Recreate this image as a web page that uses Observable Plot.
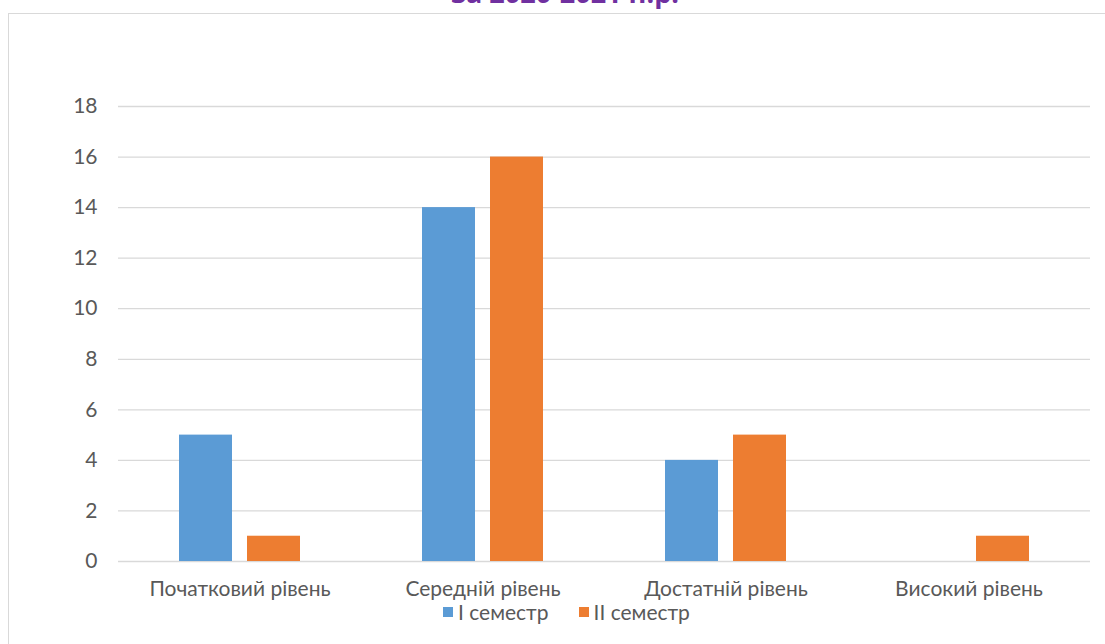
<!DOCTYPE html>
<html>
<head>
<meta charset="utf-8">
<script src="https://cdn.jsdelivr.net/npm/d3@7"></script>
<script src="https://cdn.jsdelivr.net/npm/@observablehq/plot@0.6"></script>
<style>
  html, body { margin: 0; padding: 0; background: #fff; overflow: hidden; }
  #wrap { position: relative; width: 1105px; height: 644px; overflow: hidden; font-family: Lato, "Open Sans", sans-serif; }
  #frame { position: absolute; left: 8px; top: 13px; width: 1120px; height: 700px; border: 1.5px solid #d9d9d9; box-sizing: border-box; }
  #title { position: absolute; left: 0; width: 1130px; top: -20px; text-align: center; font-weight: bold; font-size: 27px; color: #7030A0; line-height: 26px; font-family: "Open Sans", sans-serif; }
  #chart { position: absolute; left: 0; top: 0; }
  #legend { position: absolute; left: 443px; top: 599px; display: flex; align-items: center; font-size: 21px; color: #595959; }
  .sw { width: 10px; height: 10px; display: inline-block; margin-right: 5px; }
  .item { display: flex; align-items: center; margin-right: 30px; }
</style>
</head>
<body>
<div id="wrap">
  <div id="frame"></div>
  <div id="title">за 2020-2021 н.р.</div>
  <div id="chart"></div>
  <div id="legend"></div>
</div>
<script>
const categories = ["Початковий рівень", "Середній рівень", "Достатній рівень", "Високий рівень"];
const series = ["I семестр", "II семестр"];
const sem1 = [5, 14, 4, 0];
const sem2 = [1, 16, 5, 1];
const yTicks = [0, 2, 4, 6, 8, 10, 12, 14, 16, 18];
const colors = ["#5B9BD5", "#ED7D31"];

const data = [];
categories.forEach((c, i) => {
  data.push({cat: c, sem: series[0], v: sem1[i]});
  data.push({cat: c, sem: series[1], v: sem2[i]});
});

const chart = Plot.plot({
  width: 1105,
  height: 600,
  marginLeft: 118,
  marginRight: 15,
  marginTop: 106,
  marginBottom: 39,
  style: {fontFamily: "Lato, 'Open Sans', sans-serif", fontSize: "21px", color: "#595959", background: "transparent"},
  fx: {domain: categories, padding: 0, label: null},
  x: {domain: series, paddingInner: 0.2174, paddingOuter: 0.8696, axis: null},
  y: {domain: [0, 18], label: null},
  color: {domain: series, range: colors},
  marks: [
    Plot.gridY(yTicks, {stroke: "#d9d9d9", strokeOpacity: 1, strokeWidth: 1.3}),
    Plot.axisY(yTicks, {tickSize: 0, tickPadding: 21, label: null, fill: "#595959", fontSize: 21}),
    Plot.barY(data, {fx: "cat", x: "sem", y: "v", fill: "sem"}),
    Plot.axisFx({anchor: "bottom", tickSize: 0, tickPadding: 20, label: null, fill: "#595959", fontSize: 21})
  ]
});
document.getElementById("chart").appendChild(chart);

const legend = document.getElementById("legend");
series.forEach((s, i) => {
  const item = document.createElement("div");
  item.className = "item";
  const sw = document.createElement("span");
  sw.className = "sw";
  sw.style.background = colors[i];
  item.appendChild(sw);
  const t = document.createElement("span");
  t.textContent = s;
  item.appendChild(t);
  legend.appendChild(item);
});
</script>
</body>
</html>
